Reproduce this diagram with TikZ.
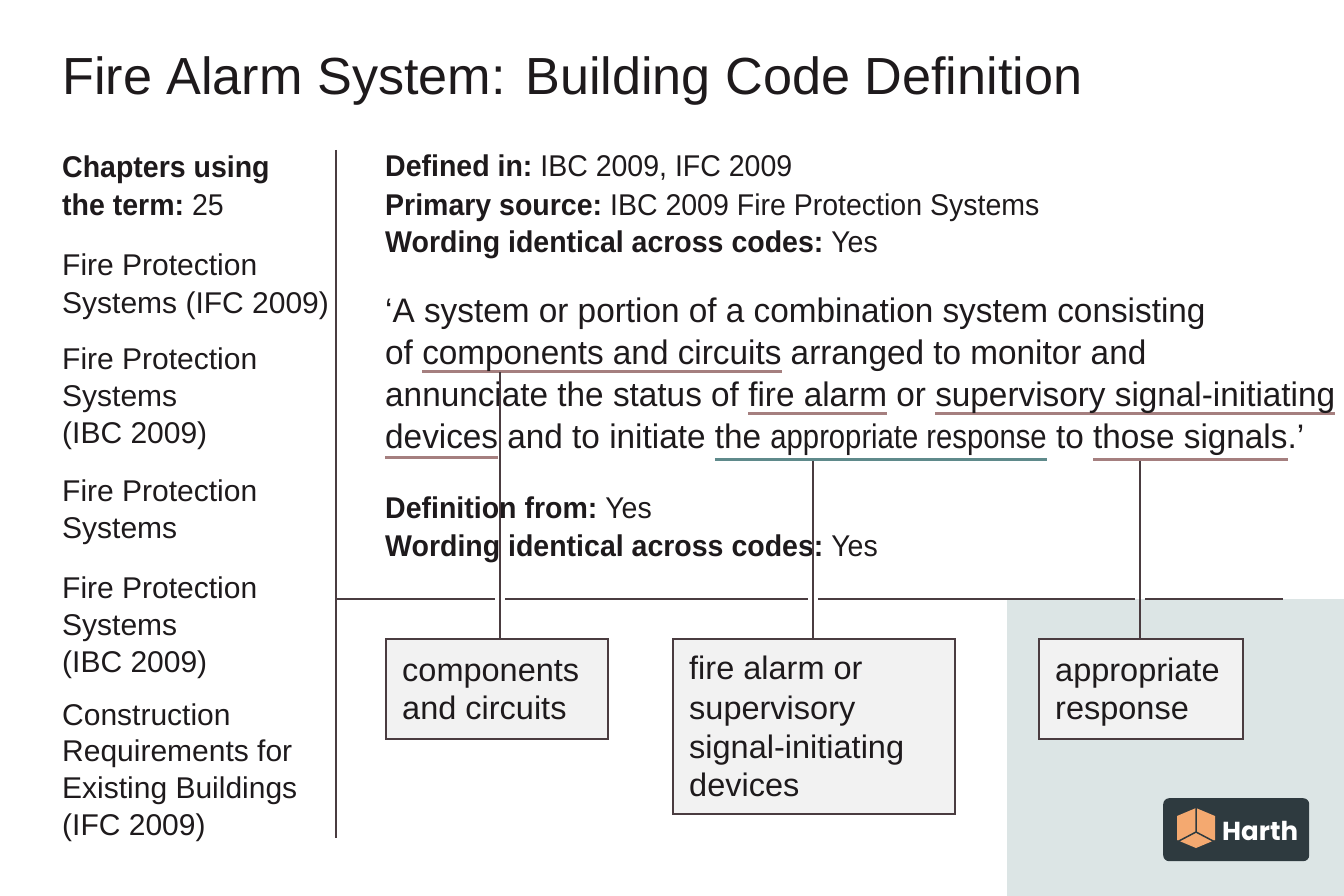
\documentclass[tikz,border=0pt]{standalone}
\usepackage{fontspec}
\setmainfont{Liberation Sans}
\newfontfamily\cond[FakeStretch=0.95]{Liberation Sans}
\newfontfamily\narr[FakeStretch=0.86]{Liberation Sans}
\newfontfamily\quot[FakeStretch=0.98]{Liberation Sans}
\newfontfamily\logo{Poppins}
\definecolor{ink}{HTML}{1E1A1C}
\definecolor{edge}{HTML}{4A3C40}
\definecolor{rose}{HTML}{A57F7F}
\definecolor{teal}{HTML}{5F8A8B}
\definecolor{pane}{HTML}{DCE5E5}
\definecolor{boxfill}{HTML}{F2F2F2}
\definecolor{logobg}{HTML}{2E3A3F}
\definecolor{cube}{HTML}{F4A970}
\newcommand\mkul[3]{\setbox0\hbox{#3}\rlap{\color{#1}\rule[-#2pt]{\wd0}{3pt}}\box0\relax}
\begin{document}
\begin{tikzpicture}[x=1pt,y=-1pt,
  lbl/.style={anchor=base west,inner sep=0pt,text=ink},
  side/.style={lbl,font=\fontsize{30}{37}\selectfont,align=left},
  hd/.style={lbl,font=\cond\fontsize{30}{37}\selectfont},
  qt/.style={lbl,font=\quot\fontsize{34}{42}\selectfont},
  rule/.style={edge,line width=1.6pt},
  box/.style={draw=edge,line width=1.6pt,fill=boxfill,anchor=north west,inner sep=0pt},
  btxt/.style={lbl,font=\fontsize{32.5}{39}\selectfont}]
\useasboundingbox (0,0) rectangle (1344,896);
\fill[white] (0,0) rectangle (1344,896);
\fill[pane] (1007,599) rectangle (1344,896);
% title
\node[lbl,font=\fontsize{52.2}{55}\selectfont] (title) at (62,95) {Fire Alarm System: Building Code Definition};
% left column
\node[side] (s0a) at (62,178) {\bfseries\cond Chapters using};
\node[side] (s0b) at (62,216) {\bfseries\cond the term:\mdseries\ 25};
\node[side] (s1a) at (62,276) {Fire Protection};
\node[side] (s1b) at (62,313) {Systems (IFC 2009)};
\node[side] (s2a) at (62,369) {Fire Protection};
\node[side] (s2b) at (62,406) {Systems};
\node[side] (s2c) at (62,443) {(IBC 2009)};
\node[side] (s3a) at (62,501) {Fire Protection};
\node[side] (s3b) at (62,538) {Systems};
\node[side] (s4a) at (62,598) {Fire Protection};
\node[side] (s4b) at (62,635) {Systems};
\node[side] (s4c) at (62,672) {(IBC 2009)};
\node[side] (s5a) at (62,725) {Construction};
\node[side] (s5b) at (62,761) {Requirements for};
\node[side] (s5c) at (62,798) {Existing Buildings};
\node[side] (s5d) at (62,835) {(IFC 2009)};
\coordinate (vt) at (336,150); \coordinate (vb) at (336,838);
\draw[rule] (vt) -- (vb);
% header
\node[hd] (h1) at (385,177) {\bfseries Defined in:\mdseries\ IBC 2009, IFC 2009};
\node[hd] (h2) at (385,215) {\bfseries Primary source:\mdseries\ IBC 2009 Fire Protection Systems};
\node[hd] (h3) at (385,252) {\bfseries Wording identical across codes:\mdseries\ Yes};
% quote
\node[qt] (q1) at (385,322) {‘A system or portion of a combination system consisting};
\node[qt] (q2) at (385,364) {of \mkul{rose}{9}{components and circuits} arranged to monitor and};
\node[qt] (q3) at (385,406) {annunciate the status of \mkul{rose}{9}{fire alarm} or \mkul{rose}{9}{supervisory signal-initiating}};
\node[qt] (q4) at (385,448) {\mkul{rose}{11}{devices} and to initiate \mkul{teal}{13}{the {\narr appropriate response}} to \mkul{rose}{13}{those signals}.’};
% definition lines
\node[hd] (d1) at (385,518) {\bfseries Definition from:\mdseries\ Yes};
\node[hd] (d2) at (385,556) {\bfseries Wording identical across codes:\mdseries\ Yes};
% horizontal rule with gaps
\coordinate (h0) at (336,599); \coordinate (h1a) at (495,599);
\coordinate (h1b) at (505,599); \coordinate (h2a) at (808,599);
\coordinate (h2b) at (818,599); \coordinate (h3a) at (1135,599);
\coordinate (h3b) at (1145,599); \coordinate (h4) at (1283,599);
\draw[rule] (h0) -- (h1a); \draw[rule] (h1b) -- (h2a);
\draw[rule] (h2b) -- (h3a); \draw[rule] (h3b) -- (h4);
% boxes
\node[box,minimum width=222pt,minimum height=100pt] (b1) at (385,638) {};
\node[box,minimum width=282pt,minimum height=175pt] (b2) at (672,638) {};
\node[box,minimum width=204pt,minimum height=100pt] (b3) at (1038,638) {};
\node[btxt] (b1a) at (402,681) {components};
\node[btxt] (b1b) at (402,719) {and circuits};
\node[btxt] (b2a) at (689,679) {fire alarm or};
\node[btxt] (b2b) at (689,719) {supervisory};
\node[btxt] (b2c) at (689,758) {signal-initiating};
\node[btxt] (b2d) at (689,796) {devices};
\node[btxt] (b3a) at (1055,681) {appropriate};
\node[btxt] (b3b) at (1055,719) {response};
% connectors
\coordinate (c1) at (500,372); \coordinate (c2) at (813,461); \coordinate (c3) at (1140,461);
\draw[rule] (c1) -- (c1 |- b1.north);
\draw[rule] (c2) -- (c2 |- b2.north);
\draw[rule] (c3) -- (c3 |- b3.north);
% logo
\node[fill=logobg,rounded corners=6pt,minimum width=146pt,minimum height=63pt,anchor=north west,inner sep=0pt] (lg) at (1163,798) {};
\fill[cube] (1177,816) -- (1196,808) -- (1215,816) -- (1215,840) -- (1196,848) -- (1177,840) -- cycle;
\draw[logobg,line width=1.5pt] (1196,808) -- (1196,832) -- (1177,842) (1196,832) -- (1215,842);
\node[lbl,text=white,font=\logo\bfseries\fontsize{26}{28}\selectfont] (lgt) at (1222,840) {Harth};
\end{tikzpicture}
\end{document}
